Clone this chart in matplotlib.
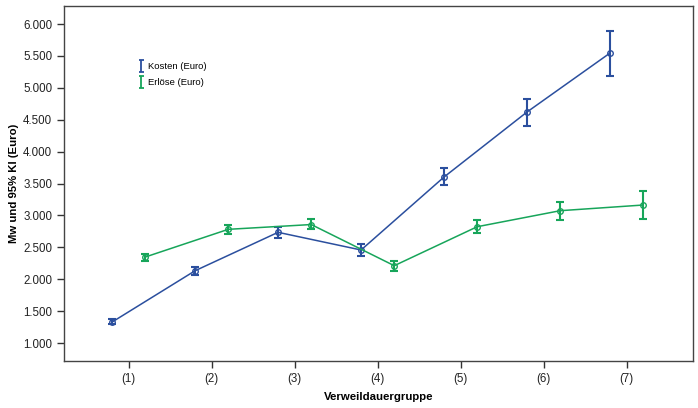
import matplotlib
matplotlib.use("Agg")
import matplotlib.pyplot as plt
from matplotlib.lines import Line2D
from matplotlib.path import Path
from matplotlib.ticker import FuncFormatter

plt.rcParams["font.family"] = ["Liberation Sans", "DejaVu Sans"]

groups = ["(1)", "(2)", "(3)", "(4)", "(5)", "(6)", "(7)"]

kosten_mean = [1329, 2133, 2735, 2458, 3602, 4621, 5545]
kosten_low = [1295, 2070, 2646, 2360, 3480, 4401, 5190]
kosten_high = [1370, 2196, 2813, 2550, 3740, 4824, 5885]

erloese_mean = [2348, 2782, 2857, 2212, 2823, 3074, 3163]
erloese_low = [2285, 2704, 2782, 2133, 2729, 2928, 2944]
erloese_high = [2395, 2854, 2944, 2290, 2928, 3215, 3382]

BLUE = "#2b4f9e"
GREEN = "#17a55a"

# I-beam glyph for the legend (SPSS style)
IBEAM = Path(
    [(-0.45, -1), (0.45, -1), (0, -1), (0, 1), (-0.45, 1), (0.45, 1)],
    [Path.MOVETO, Path.LINETO, Path.MOVETO, Path.LINETO, Path.MOVETO, Path.LINETO],
)


def de_thousands(v, pos):
    return f"{v / 1000:.3f}"


fig = plt.figure(figsize=(6.98, 4.08), dpi=100)
ax = fig.add_axes([0.0917, 0.1152, 0.9011, 0.870])

xs = range(1, len(groups) + 1)
series = [
    ("Kosten (Euro)", kosten_mean, kosten_low, kosten_high, BLUE, -0.2),
    ("Erlöse (Euro)", erloese_mean, erloese_low, erloese_high, GREEN, 0.2),
]

handles = []
for label, mean, low, high, color, off in series:
    x = [i + off for i in xs]
    yerr = [[m - l for m, l in zip(mean, low)], [h - m for m, h in zip(mean, high)]]
    ax.plot(x, mean, color=color, lw=1.1, marker="o", ms=4, mfc="none", mec=color, mew=1.0)
    ax.errorbar(x, mean, yerr=yerr, fmt="none", ecolor=color, elinewidth=1.5, capsize=3, capthick=1.5)
    handles.append(Line2D([], [], ls="none", marker=IBEAM, ms=8, mew=1.3, color=color, label=label))

ax.legend(handles=handles, loc="upper left", bbox_to_anchor=(0.11, 0.855), frameon=False,
          fontsize=6.8, handlelength=0.6, handletextpad=0.5, labelspacing=0.75, borderpad=0)

ax.set_xlim(0.22, 7.8)
ax.set_ylim(718, 6282)
ax.set_xticks(list(xs))
ax.set_xticklabels(groups)
ax.set_yticks([1000, 1500, 2000, 2500, 3000, 3500, 4000, 4500, 5000, 5500, 6000])
ax.yaxis.set_major_formatter(FuncFormatter(de_thousands))
ax.tick_params(labelsize=8.3, color="#333333", length=5, width=1.0, labelcolor="#222222")

for s in ax.spines.values():
    s.set_color("#444444")
    s.set_linewidth(1.0)

ax.set_xlabel("Verweildauergruppe", fontsize=8.2, fontweight="bold", labelpad=5)
ax.set_ylabel("Mw und 95% KI (Euro)", fontsize=8.2, fontweight="bold", labelpad=3)

fig.savefig("out.png", dpi=100)
